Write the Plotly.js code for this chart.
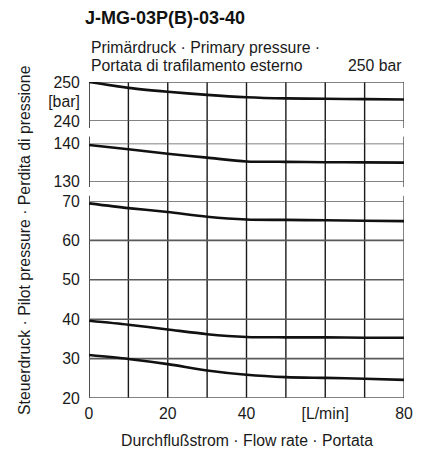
<!DOCTYPE html>
<html>
<head>
<meta charset="utf-8">
<script src="https://cdn.plot.ly/plotly-3.0.1.min.js"></script>
<style>html,body{margin:0;padding:0;background:#fff;}#chart{width:429px;height:449px;}</style>
</head>
<body>
<div id="chart"></div>
<script>
// ---- data ----
const flow = [0, 10, 20, 30, 40, 50, 60, 70, 80];
const p250 = [250.0, 248.5, 247.5, 246.7, 246.1, 245.8, 245.7, 245.6, 245.5];
const p140 = [139.6, 138.5, 137.3, 136.3, 135.3, 135.2, 135.1, 135.05, 135.0];
const p70  = [69.4, 68.2, 67.2, 66.0, 65.3, 65.2, 65.1, 65.0, 64.9];
const p40  = [39.6, 38.6, 37.4, 36.2, 35.5, 35.4, 35.4, 35.3, 35.3];
const p30  = [30.9, 29.9, 28.6, 27.0, 25.9, 25.3, 25.1, 24.9, 24.6];

const xTickVals = [0, 20, 40, 60, 80];
const xTickText = ["0", "20", "40", "[L/min]", "80"];
const xGrid = [10, 20, 30, 40, 50, 60, 70];
const xBorders = [0, 80];

const yLowTicks = [20, 30, 40, 50, 60, 70];
const yMidTicks = [130, 140];
const yTopTicks = [240, 245, 250];
const yTopText = ["240", "[bar]", "250"];
const yTopGrid = [240, 250];

const titleText = "<b>J-MG-03P(B)-03-40</b>";
const noteLine1 = "Primärdruck · Primary pressure ·";
const noteLine2 = "Portata di trafilamento esterno";
const noteRight = "250 bar";
const xTitle = "Durchflußstrom · Flow rate · Portata";
const yTitle = "Steuerdruck · Pilot pressure · Perdita di pressione";

// ---- layout geometry ----
const FONT = "Liberation Sans, Arial, sans-serif";
const fs = 15.8;
const domLow = [0, 0.6234];
const domMid = [0.6845, 0.8054];
const domTop = [0.8766, 1];
const gapA = (domLow[1] + domMid[0]) / 2;
const gapB = (domMid[1] + domTop[0]) / 2;
const hg = 0.0136;

const lineStyle = {shape: "spline", smoothing: 0.8, color: "#111", width: 2.6};
const traces = [
  {x: flow, y: p250, xaxis: "x", yaxis: "y3"},
  {x: flow, y: p140, xaxis: "x", yaxis: "y2"},
  {x: flow, y: p70, xaxis: "x", yaxis: "y"},
  {x: flow, y: p40, xaxis: "x", yaxis: "y"},
  {x: flow, y: p30, xaxis: "x", yaxis: "y"}
].map(t => Object.assign(t, {type: "scatter", mode: "lines", line: lineStyle, hoverinfo: "skip", showlegend: false}));

const shapes = [];
const hLine = (yref, v) => ({type: "line", layer: "below", xref: "x", yref: yref, x0: 0, x1: 80, y0: v, y1: v, line: {color: "#5a5a5a", width: 1.6}});
yLowTicks.forEach(v => shapes.push(hLine("y", v)));
yMidTicks.forEach(v => shapes.push(hLine("y2", v)));
yTopGrid.forEach(v => shapes.push(hLine("y3", v)));
xGrid.forEach(v => shapes.push({type: "line", layer: "below", xref: "x", yref: "paper", x0: v, x1: v, y0: 0, y1: 1, line: {color: "#1a1a1a", width: 1.4}}));
const segs = [[0, gapA - hg], [gapA + hg, gapB - hg], [gapB + hg, 1]];
xBorders.forEach((v, i) => segs.forEach(s => shapes.push({type: "line", layer: "below", xref: "x", yref: "paper", x0: v, x1: v, y0: s[0], y1: s[1], line: {color: i === 0 ? "#222" : "#666", width: 1.6}})));

const yBase = {showgrid: false, zeroline: false, showline: false, ticks: "outside", ticklen: 5, tickcolor: "rgba(0,0,0,0)", tickfont: {family: FONT, size: fs, color: "#1a1a1a"}, fixedrange: true};

const layout = {
  width: 429, height: 449,
  margin: {l: 89, r: 25, t: 82, b: 51},
  paper_bgcolor: "#fff", plot_bgcolor: "#fff",
  font: {family: FONT, size: fs, color: "#1a1a1a"},
  title: {text: titleText, font: {family: FONT, size: 18, color: "#111"}, x: 85 / 429, xanchor: "left", xref: "container", y: 1 - 18 / 449, yanchor: "middle", yref: "container"},
  xaxis: {domain: [0, 1], range: [0, 80], anchor: "y", tickvals: xTickVals, ticktext: xTickText, showgrid: false, zeroline: false, showline: false, ticks: "outside", ticklen: 1, tickcolor: "rgba(0,0,0,0)", tickfont: {family: FONT, size: fs, color: "#1a1a1a"}, fixedrange: true},
  yaxis: Object.assign({}, yBase, {domain: domLow, range: [20, 70], tickvals: yLowTicks, anchor: "x"}),
  yaxis2: Object.assign({}, yBase, {domain: domMid, range: [130, 140], tickvals: yMidTicks, anchor: "x"}),
  yaxis3: Object.assign({}, yBase, {domain: domTop, range: [240, 250], tickvals: yTopTicks, ticktext: yTopText, anchor: "x"}),
  shapes: shapes,
  annotations: [
    {text: noteLine1, xref: "paper", yref: "paper", x: 0, y: (398 - 47) / 316, xanchor: "left", yanchor: "middle", showarrow: false, font: {family: FONT, size: fs, color: "#1a1a1a"}},
    {text: noteLine2, xref: "paper", yref: "paper", x: 0, y: (398 - 66) / 316, xanchor: "left", yanchor: "middle", showarrow: false, font: {family: FONT, size: fs, color: "#1a1a1a"}},
    {text: noteRight, xref: "paper", yref: "paper", x: 1, y: (398 - 66) / 316, xanchor: "right", yanchor: "middle", showarrow: false, font: {family: FONT, size: fs, color: "#1a1a1a"}},
    {text: xTitle, xref: "paper", yref: "paper", x: 0.5, y: (398 - 440) / 316, xanchor: "center", yanchor: "middle", showarrow: false, font: {family: FONT, size: fs, color: "#1a1a1a"}},
    {text: yTitle, xref: "paper", yref: "paper", x: (24 - 89) / 315, y: 0.5, xanchor: "center", yanchor: "middle", textangle: -90, showarrow: false, font: {family: FONT, size: fs, color: "#1a1a1a"}}
  ]
};

Plotly.newPlot("chart", traces, layout, {displayModeBar: false, staticPlot: true});
</script>
</body>
</html>
